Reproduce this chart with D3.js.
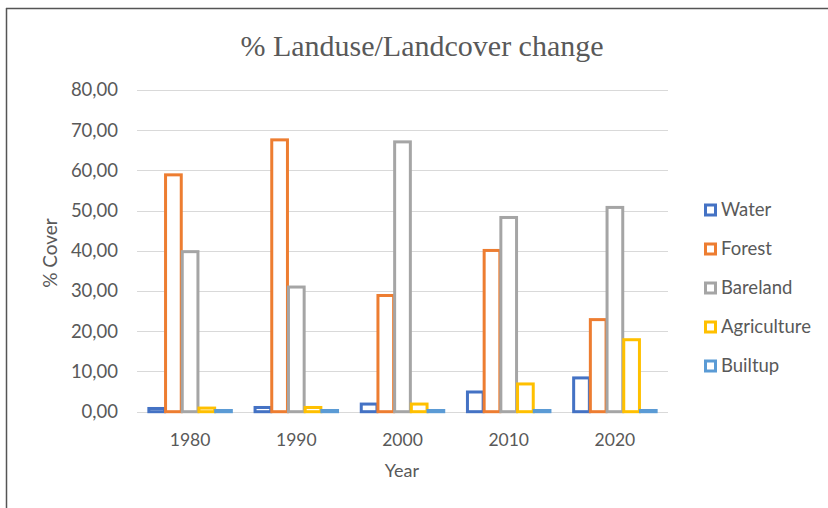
<!DOCTYPE html>
<html><head><meta charset="utf-8">
<script src="https://cdn.jsdelivr.net/npm/d3@7"></script>
<style>body{margin:0;background:#fff}svg{display:block}</style>
</head><body>
<svg id="c" width="828" height="508"></svg>
<script>
const years = ["1980","1990","2000","2010","2020"];
const seriesNames = ["Water","Forest","Bareland","Agriculture","Builtup"];
const water = [0.8, 1.05, 1.9, 4.9, 8.4];
const forest = [58.9, 67.6, 28.9, 40.1, 22.9];
const bareland = [39.8, 31.0, 67.1, 48.3, 50.8];
const agriculture = [0.9, 1.05, 1.9, 6.9, 17.9];
const builtup = [0.3, 0.3, 0.3, 0.3, 0.3];
const colors = ["#4472C4","#ED7D31","#A5A5A5","#FFC000","#5B9BD5"];
const yTicks = [0,10,20,30,40,50,60,70,80];
const values = [water, forest, bareland, agriculture, builtup];

(function(){
const svg = d3.select("#c");
const textColor = "#595959";
const font = "Lato, 'Open Sans', sans-serif";

// frame
svg.append("line").attr("x1",6.5).attr("x2",6.5).attr("y1",8).attr("y2",508).attr("stroke","#555").attr("stroke-width",1.5);
svg.append("line").attr("x1",6).attr("x2",828).attr("y1",8.5).attr("y2",8.5).attr("stroke","#555").attr("stroke-width",1.5);

const pLeft = 137, pRight = 668, pTop = 90, pBottom = 411.7;
const y = d3.scaleLinear().domain([0,80]).range([pBottom, pTop]);
const x0 = d3.scaleBand().domain(years).range([pLeft, pRight]).paddingInner(0).paddingOuter(0);
const x1 = d3.scaleBand().domain(seriesNames).range([0, x0.bandwidth()]).paddingInner(0).paddingOuter(0.68);

// gridlines
svg.append("g").selectAll("line").data(yTicks).join("line")
  .attr("x1", pLeft).attr("x2", pRight)
  .attr("y1", d => Math.round(y(d))+0.5).attr("y2", d => Math.round(y(d))+0.5)
  .attr("stroke", "#D9D9D9").attr("stroke-width", 1);

// y axis labels
const yAxis = d3.axisLeft(y).tickValues(yTicks).tickSize(0).tickPadding(0)
  .tickFormat(d => d3.format(".2f")(d).replace(".", ","));
const ya = svg.append("g").attr("transform", `translate(${118},0)`).call(yAxis);
ya.select(".domain").remove();
ya.selectAll("text").attr("fill", textColor).style("font-family", font).style("font-size","18.5px");

// x axis labels
const xAxis = d3.axisBottom(x0).tickSize(0).tickPadding(0);
const xa = svg.append("g").attr("transform", `translate(0,${434})`).call(xAxis);
xa.select(".domain").remove();
xa.selectAll("text").attr("fill", textColor).style("font-family", font).style("font-size","17.5px");

// bars
const data = [];
years.forEach((yr,i) => seriesNames.forEach((s,j) => data.push({yr, s, j, v: values[j][i]})));
svg.append("g").selectAll("rect").data(data).join("rect")
  .attr("x", d => x0(d.yr) + x1(d.s) + 0.5)
  .attr("width", x1.bandwidth() - 1)
  .attr("y", d => y(d.v))
  .attr("height", d => Math.max(0, y(0) - y(d.v)))
  .attr("fill", "#fff")
  .attr("stroke", d => colors[d.j])
  .attr("stroke-width", 3);

// title
svg.append("text").attr("x", 422).attr("y", 56).attr("text-anchor","middle")
  .attr("fill", textColor).style("font-family","'Liberation Serif', 'Times New Roman', serif")
  .style("font-size","30px").text("% Landuse/Landcover change");

// axis titles
svg.append("text").attr("x", 402).attr("y", 477).attr("text-anchor","middle")
  .attr("fill", textColor).style("font-family", font).style("font-size","18px").text("Year");
svg.append("text").attr("transform","translate(57,253) rotate(-90)").attr("text-anchor","middle")
  .attr("fill", textColor).style("font-family", font).style("font-size","19px").text("% Cover");

// legend
const lg = svg.append("g").selectAll("g").data(seriesNames).join("g")
  .attr("transform", (d,i) => `translate(704,${210 + i*39})`);
lg.append("rect").attr("x", 1.5).attr("y", -5).attr("width", 10).attr("height", 10)
  .attr("fill","#fff").attr("stroke", (d,i) => colors[i]).attr("stroke-width", 3);
lg.append("text").attr("x", 17).attr("y", 0).attr("dy","0.35em")
  .attr("fill", textColor).style("font-family", font).style("font-size","18.5px").text(d => d);
})();
</script>
</body></html>
